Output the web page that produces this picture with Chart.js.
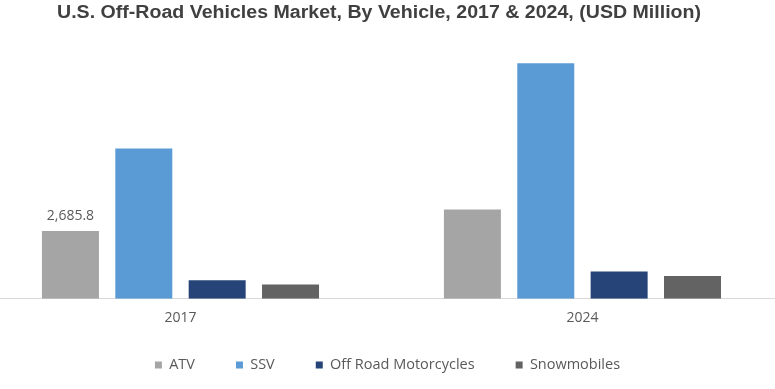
<!DOCTYPE html>
<html>
<head>
<meta charset="utf-8">
<script src="https://cdn.jsdelivr.net/npm/chart.js@4"></script>
<style>
  body { margin: 0; background: #fff; }
  #wrap { width: 775px; height: 389px; }
</style>
</head>
<body>
<div id="wrap"><canvas id="chart" width="775" height="389"></canvas></div>
<script>
const title = 'U.S. Off-Road Vehicles Market, By Vehicle, 2017 & 2024, (USD Million)';
const years = ['2017', '2024'];
const atv = [2685.8, 3533];
const ssv = [5950, 9317];
const offRoadMoto = [733, 1077];
const snowmobiles = [562, 903];

// only the first ATV bar carries a value label in the original
const valueLabel = {
    id: 'valueLabel',
    afterDatasetsDraw(chart) {
        const bar = chart.getDatasetMeta(0).data[0];
        const ctx = chart.ctx;
        ctx.save();
        ctx.font = '14px "Open Sans"';
        ctx.fillStyle = '#595959';
        ctx.textAlign = 'center';
        ctx.textBaseline = 'bottom';
        ctx.fillText(atv[0].toLocaleString('en-US', { minimumFractionDigits: 1 }), bar.x, bar.y - 8);
        ctx.restore();
    }
};

// narrow bold title (the original uses a condensed face)
const narrowTitle = {
    id: 'narrowTitle',
    afterDraw(chart) {
        const ctx = chart.ctx;
        ctx.save();
        ctx.font = 'bold 17.5px "Liberation Sans"';
        ctx.fillStyle = '#404040';
        ctx.textBaseline = 'alphabetic';
        ctx.textAlign = 'left';
        const w = ctx.measureText(title).width;
        ctx.translate(57, 17.5);
        ctx.scale(644 / w, 1);
        ctx.fillText(title, 0, 0);
        ctx.restore();
    }
};

const ctx = document.getElementById('chart').getContext('2d');
const chart = new Chart(ctx, {
    type: 'bar',
    data: {
        labels: [0, 1],
        datasets: [
            { label: 'ATV', data: atv, backgroundColor: '#a5a5a5' },
            { label: 'SSV', data: ssv, backgroundColor: '#5b9bd5' },
            { label: 'Off Road Motorcycles', data: offRoadMoto, backgroundColor: '#264478' },
            { label: 'Snowmobiles', data: snowmobiles, backgroundColor: '#636363' }
        ]
    },
    options: {
        responsive: false,
        animation: false,
        categoryPercentage: 0.73,
        barPercentage: 0.777,
        layout: { padding: { left: 0, right: 0, top: 46, bottom: 6.75 } },
        scales: {
            x: {
                type: 'linear',
                min: -0.449,
                max: 1.479,
                offset: false,
                grid: { display: false, drawTicks: false },
                border: { color: '#d9d9d9', width: 1 },
                afterBuildTicks: scale => { scale.ticks = [{ value: 0 }, { value: 1 }]; },
                afterFit: scale => { scale.height = 28.5; },
                ticks: {
                    padding: 11,
                    color: '#595959',
                    font: { family: 'Open Sans', size: 14 },
                    callback: v => years[v]
                }
            },
            y: {
                display: false,
                min: 0,
                max: 10000
            }
        },
        plugins: {
            title: { display: false },
            legend: {
                position: 'bottom',
                // empty title with negative padding pulls the legend row up,
                // so the wide item spacing doesn't push it too far down
                title: { display: true, text: '', font: { size: 1 }, padding: { top: -11.75, bottom: 0 } },
                labels: {
                    boxWidth: 7,
                    boxHeight: 7,
                    padding: 41,
                    color: '#595959',
                    font: { family: 'Open Sans', size: 14.5 }
                }
            },
            tooltip: { enabled: false }
        }
    },
    plugins: [valueLabel, narrowTitle]
});
</script>
</body>
</html>
